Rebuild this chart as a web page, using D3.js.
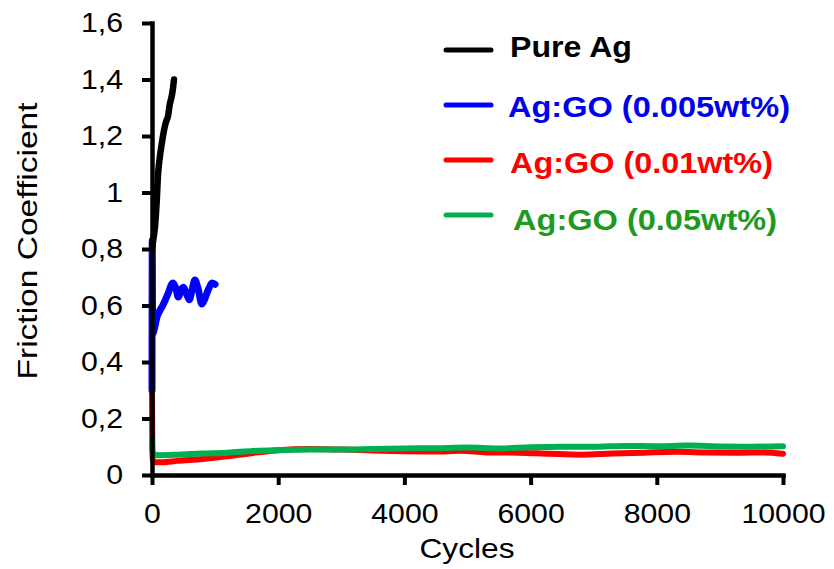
<!DOCTYPE html>
<html>
<head>
<meta charset="utf-8">
<script src="https://cdn.jsdelivr.net/npm/d3@7"></script>
<style>
  html, body { margin: 0; padding: 0; background: #fff; }
  svg { display: block; }
  text { font-family: Arial, "Liberation Sans", sans-serif; }
</style>
</head>
<body>
<svg id="chart" width="834" height="569"></svg>
<script>
// Friction coefficient vs. sliding cycles
const seriesNames = ["Pure Ag", "Ag:GO (0.005wt%)", "Ag:GO (0.01wt%)", "Ag:GO (0.05wt%)"];

const pureAgCycles = [0, 25, 48, 75, 95, 127, 160, 190, 222, 254, 280, 301, 320, 333, 349];
const pureAgValues = [0.80, 0.84, 0.88, 0.97, 1.06, 1.13, 1.18, 1.22, 1.25, 1.27, 1.31, 1.33, 1.35, 1.37, 1.40];

const go005Cycles = [0, 4, 10, 40, 80, 120, 170, 250, 333, 380, 415, 470, 500, 550, 590, 630, 680, 730, 790, 830, 890, 950, 1000];
const go005Values = [0.30, 0.83, 0.50, 0.52, 0.56, 0.58, 0.60, 0.64, 0.68, 0.66, 0.63, 0.66, 0.665, 0.64, 0.62, 0.65, 0.69, 0.66, 0.605, 0.62, 0.655, 0.68, 0.675];

const go01Cycles = [0, 5, 12, 50, 150, 400, 800, 1200, 1600, 2000, 2500, 3000, 3500, 4000, 4500, 4900, 5300, 5800, 6300, 6800, 7300, 7800, 8300, 8800, 9300, 9700, 10000];
const go01Values = [0.29, 0.10, 0.05, 0.045, 0.045, 0.05, 0.057, 0.066, 0.078, 0.088, 0.092, 0.090, 0.087, 0.084, 0.083, 0.086, 0.080, 0.079, 0.075, 0.072, 0.076, 0.079, 0.082, 0.080, 0.079, 0.080, 0.075];

const go05Cycles = [0, 5, 20, 100, 400, 800, 1200, 1600, 2000, 2500, 3000, 3500, 4000, 4500, 5000, 5500, 6000, 6500, 7000, 7500, 8000, 8500, 9000, 9500, 10000];
const go05Values = [0.125, 0.09, 0.075, 0.070, 0.072, 0.076, 0.079, 0.085, 0.088, 0.090, 0.090, 0.092, 0.094, 0.095, 0.097, 0.094, 0.098, 0.100, 0.100, 0.103, 0.102, 0.104, 0.101, 0.100, 0.102];

const lineColors = ["#000000", "#0000ff", "#ff0000", "#00b050"];
const textColors = ["#000000", "#0000ee", "#ff0000", "#1f9a1f"];

const xTickValues = [0, 2000, 4000, 6000, 8000, 10000];
const xTickLabels = ["0", "2000", "4000", "6000", "8000", "10000"];
const yTickValues = [0, 0.2, 0.4, 0.6, 0.8, 1.0, 1.2, 1.4, 1.6];
const yTickLabels = ["0", "0,2", "0,4", "0,6", "0,8", "1", "1,2", "1,4", "1,6"];

const xTitle = "Cycles";
const yTitle = "Friction Coefficient";

const svg = d3.select("#chart");
const plotLeft = 152, plotRight = 783, plotTop = 23, plotBottom = 475;

const x = d3.scaleLinear().domain([0, 10000]).range([plotLeft, plotRight]);
const y = d3.scaleLinear().domain([0, 1.6]).range([plotBottom, plotTop]);

// widen glyphs slightly so text lengths follow the chart's lettering
function stretch(sel, k) {
  sel.each(function () {
    const w = this.getComputedTextLength();
    d3.select(this).attr("textLength", w * k).attr("lengthAdjust", "spacingAndGlyphs");
  });
}

// data lines (drawn first so axes sit on top at the origin)
const series = [
  { cycles: go01Cycles, values: go01Values, color: lineColors[2], w: 6 },
  { cycles: go05Cycles, values: go05Values, color: lineColors[3], w: 6 },
  { cycles: go005Cycles, values: go005Values, color: lineColors[1], w: 7 },
  { cycles: pureAgCycles, values: pureAgValues, color: lineColors[0], w: 6.5 }
];

const line = d3.line()
  .x(d => x(d[0]))
  .y(d => y(d[1]))
  .curve(d3.curveMonotoneX);

svg.append("g").selectAll("path")
  .data(series)
  .join("path")
  .attr("d", s => line(s.cycles.map((c, i) => [c, s.values[i]])))
  .attr("fill", "none")
  .attr("stroke", s => s.color)
  .attr("stroke-width", s => s.w)
  .attr("stroke-linejoin", "round")
  .attr("stroke-linecap", "round");

// axes
const xAxis = svg.append("g")
  .attr("transform", `translate(0,${plotBottom})`)
  .call(d3.axisBottom(x)
    .tickValues(xTickValues)
    .tickFormat((d, i) => xTickLabels[i])
    .tickSizeInner(10).tickSizeOuter(0).tickPadding(18));

const yAxis = svg.append("g")
  .attr("transform", `translate(${plotLeft},0)`)
  .call(d3.axisLeft(y)
    .tickValues(yTickValues)
    .tickFormat((d, i) => yTickLabels[i])
    .tickSizeInner(10).tickSizeOuter(0).tickPadding(19));

[xAxis, yAxis].forEach(g => {
  g.select(".domain").attr("stroke", "#000").attr("stroke-width", 4.5).attr("stroke-linecap", "square");
  g.selectAll(".tick line").attr("stroke", "#000").attr("stroke-width", 4);
  g.selectAll(".tick text")
    .attr("fill", "#000")
    .attr("font-family", "Arial, 'Liberation Sans', sans-serif")
    .attr("font-size", 28)
    .call(stretch, 1.08);
});

// axis titles
svg.append("text")
  .attr("x", 467).attr("y", 558)
  .attr("text-anchor", "middle")
  .attr("font-size", 28)
  .attr("fill", "#000")
  .text(xTitle)
  .attr("textLength", 95).attr("lengthAdjust", "spacingAndGlyphs");

svg.append("text")
  .attr("transform", "translate(37,241) rotate(-90)")
  .attr("text-anchor", "middle")
  .attr("font-size", 28)
  .attr("fill", "#000")
  .text(yTitle)
  .attr("textLength", 277).attr("lengthAdjust", "spacingAndGlyphs");

// legend
const legendLineY = [50, 105, 160, 215];
const legendTextX = [510, 508, 510, 513];
const legendTextY = [57, 117, 173, 230];
const legendTextW = [122, 282, 263, 264];

const legend = svg.append("g");
seriesNames.forEach((name, i) => {
  legend.append("line")
    .attr("x1", 446).attr("x2", 491)
    .attr("y1", legendLineY[i]).attr("y2", legendLineY[i])
    .attr("stroke", lineColors[i])
    .attr("stroke-width", 5)
    .attr("stroke-linecap", "round");
  legend.append("text")
    .attr("x", legendTextX[i]).attr("y", legendTextY[i])
    .attr("font-size", 29)
    .attr("font-weight", "bold")
    .attr("fill", textColors[i])
    .text(name)
    .attr("textLength", legendTextW[i]).attr("lengthAdjust", "spacingAndGlyphs");
});
</script>
</body>
</html>
